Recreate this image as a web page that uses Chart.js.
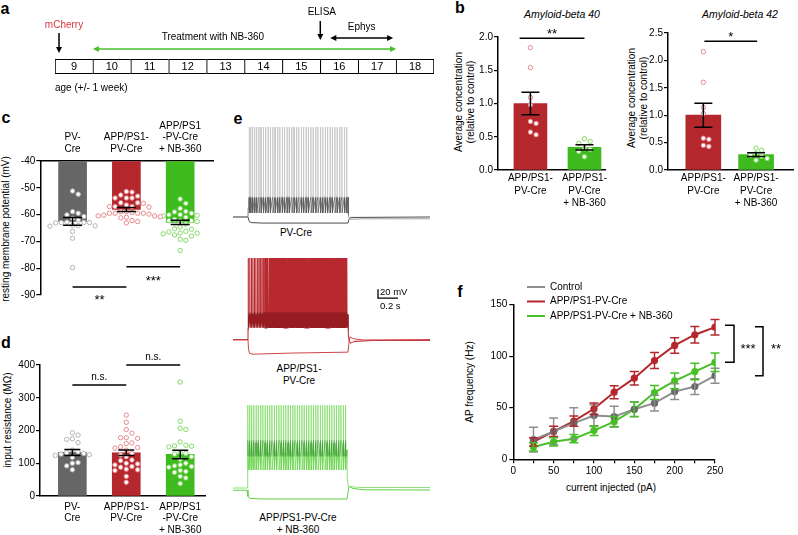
<!DOCTYPE html>
<html>
<head>
<meta charset="utf-8">
<title>PV interneurons - NB-360</title>
<script src="https://cdn.jsdelivr.net/npm/chart.js@4.4.1/dist/chart.umd.min.js"></script>
<style>
  html, body { margin: 0; padding: 0; background: #fff; }
  body { position: relative; width: 798px; height: 535px; overflow: hidden;
         font-family: 'Liberation Sans', Arial, Helvetica, sans-serif; font-size: 10px; color: #000; }
  canvas { position: absolute; }
  .t { position: absolute; white-space: nowrap; line-height: 1; transform: translate(-50%, -50%); }
  .p { font-size: 16px; font-weight: bold; }
  .i { font-style: italic; font-size: 10.5px; }
  .v { transform: translate(-50%, -50%) rotate(-90deg); }
</style>
</head>
<body>
<div class="t p" style="left:5px;top:9px">a</div>
<div class="t p" style="left:460px;top:8px">b</div>
<div class="t p" style="left:6px;top:118px">c</div>
<div class="t p" style="left:6px;top:343px">d</div>
<div class="t p" style="left:238px;top:119px">e</div>
<div class="t p" style="left:460px;top:292px">f</div>

<div class="t i" style="left:562px;top:14px">Amyloid-beta 40</div>
<div class="t i" style="left:740px;top:14px">Amyloid-beta 42</div>
<div class="t v" style="left:459px;top:102px">Average concentration</div>
<div class="t v" style="left:471px;top:102px">(relative to control)</div>
<div class="t v" style="left:632px;top:98px">Average concentration</div>
<div class="t v" style="left:644px;top:98px">(relative to control)</div>
<div class="t v" style="left:6px;top:229px">resting membrane potential (mV)</div>
<div class="t v" style="left:8px;top:420px">input resistance (MΩ)</div>
<div class="t" style="left:296px;top:233px">PV-Cre</div>
<div class="t" style="left:299px;top:369px">APP/PS1-</div>
<div class="t" style="left:299px;top:381px">PV-Cre</div>
<div class="t" style="left:298px;top:518px">APP/PS1-PV-Cre</div>
<div class="t" style="left:298px;top:530px">+ NB-360</div>
<div class="t v" style="left:470px;top:382px">AP frequency (Hz)</div>
<div class="t" style="left:611px;top:488px">current injected (pA)</div>

<script>
const FONT = "'Liberation Sans', Arial, Helvetica, sans-serif";

// a - timeline, age in weeks
const ageWeeks = [9, 10, 11, 12, 13, 14, 15, 16, 17, 18];
const mCherryWeek = 9;
const treatmentWeeks = [10, 18];
const elisaWeek = 16;
const ephysWeeks = [16, 18];

// b - ELISA (relative to control)
const abLabels = [['APP/PS1-', 'PV-Cre'], ['APP/PS1-', 'PV-Cre', '+ NB-360']];
const ab40Mean = [1.0, 0.34];
const ab40Sem = [0.17, 0.04];
const ab40Tg = [1.84, 1.54, 1.09, 0.98, 0.73, 0.70, 0.57, 0.53];
const ab40Nb = [0.47, 0.43, 0.40, 0.32, 0.31, 0.28, 0.20];
const ab42Mean = [1.0, 0.28];
const ab42Sem = [0.22, 0.035];
const ab42Tg = [2.16, 1.60, 1.14, 1.03, 0.58, 0.56, 0.45, 0.43];
const ab42Nb = [0.40, 0.36, 0.30, 0.27, 0.25, 0.21, 0.18];

// c - resting membrane potential (mV)
const cellLabels = [['PV-', 'Cre'], ['APP/PS1-', 'PV-Cre'], ['APP/PS1', '-PV-Cre', '+ NB-360']];
const rmpMean = [-62.5, -58.1, -62.9];
const rmpSem = [1.45, 0.75, 0.8];
const rmpCtrl = [-51.2, -52.4, -58.9, -59.5, -60.1, -60.7, -61.4, -62.0, -62.8, -62.9, -63.0, -63.0,
                 -63.1, -64.0, -64.1, -64.2, -64.3, -66.3, -68.8, -79.8];
const rmpTg = [-51.4, -51.6, -52.7, -53.1, -53.8, -53.8, -53.8, -55.6, -55.6, -55.8, -56.4, -57.0, -57.0,
               -57.0, -57.2, -58.9, -58.9, -59.2, -59.5, -59.5, -59.5, -59.5, -59.8, -60.2, -60.5, -60.5,
               -60.8, -61.0, -61.2, -62.2, -62.6, -63.1];
const rmpNb = [-54.2, -55.8, -57.7, -58.8, -59.0, -59.5, -60.0, -60.1, -60.3, -60.5, -61.0, -61.8, -62.3,
               -62.3, -62.3, -62.6, -63.5, -64.6, -65.3, -65.5, -66.2, -66.5, -66.9, -66.9, -67.2, -67.6,
               -68.0, -69.2, -69.6, -73.4];

// d - input resistance (MOhm)
const rinMean = [133, 132, 127];
const rinSem = [9, 8.5, 13];
const rinCtrl = [193, 186, 175, 173, 163, 140, 135, 132, 130, 128, 126, 124, 118, 102, 100, 92, 80];
const rinTg = [247, 225, 203, 192, 178, 178, 176, 162, 160, 150, 148, 146, 140, 130, 125, 120, 110, 108,
               100, 98, 95, 90, 88, 82, 80, 78, 60, 42];
const rinNb = [348, 228, 207, 203, 165, 155, 153, 152, 150, 133, 130, 128, 120, 112, 100, 95, 92, 90, 88,
               78, 75, 72, 60, 55, 38];

// e - example traces (time s, mV), spike times in ms
const graySpikes = [163, 177, 195, 216, 236, 259, 280, 304, 326, 351, 373, 398, 420, 446, 467, 493, 515,
                    541, 562, 588, 610, 636, 658, 684, 705, 731, 753, 779, 801, 827, 849, 875, 897, 923,
                    945, 971, 993, 1019, 1041, 1067, 1089, 1115, 1137];
const grayLevels = {thr: -18, peak: 135, ahp: -56};
const grayHead = [[0, -65], [0.15, -65], [0.152, -45], [0.158, -30]];
const grayTail = [[1.15, -20], [1.153, -58], [1.16, -68], [1.18, -70], [1.3, -69], [1.97, -69]];
const grayHyper = [[0, -65], [0.15, -65], [0.16, -74], [0.18, -77.5], [0.3, -78.5], [1.15, -78.5],
                   [1.16, -70], [1.18, -66], [1.97, -65]];

const redSpikes = [153, 168, 184, 199, 214, 229, 245, 260, 275, 290, 305, 318,
                   329, 340, 350, 361, 371, 382, 392, 403, 413, 424, 434, 445, 455, 466, 476, 487, 497,
                   508, 518, 529, 539, 550, 560, 571, 581, 592, 602, 613, 623, 634, 644, 655, 665, 676,
                   686, 697, 707, 718, 728, 739, 749, 760, 770, 781, 791, 802, 812, 823, 833, 844, 854,
                   865, 875, 886, 896, 907, 917, 928, 938, 949, 959, 970, 980, 991, 1001, 1012, 1022,
                   1033, 1043, 1054, 1064, 1075, 1085, 1096, 1106, 1117, 1127, 1138];
const redLevels = {thr: -5, peak: 117, ahp: -38};
const redHead = [[0, -64], [0.15, -64], [0.1505, -40], [0.152, -15]];
const redTail = [[1.15, -8], [1.153, -50], [1.16, -66], [1.175, -72], [1.22, -68], [1.4, -66], [1.97, -66]];
const redHyper = [[0, -65], [0.15, -65], [0.155, -85], [0.165, -95], [0.2, -96.5], [0.6, -94], [1.15, -92],
                  [1.16, -70], [1.17, -58], [1.2, -62], [1.3, -65], [1.97, -64]];

const greenSpikes = [150, 166, 186, 207, 231, 252, 276, 298, 321, 343, 367, 389, 413, 435, 459, 481, 505,
                     527, 551, 573, 597, 619, 643, 665, 689, 711, 735, 757, 781, 803, 827, 849, 873, 895,
                     919, 941, 965, 987, 1011, 1033, 1057, 1079, 1103, 1125];
const greenLevels = {thr: 35, peak: 119, ahp: -25};
const greenHead = [[0, -65], [0.14, -65], [0.142, -35], [0.148, 0]];
const greenTail = [[1.14, 20], [1.143, -45], [1.15, -60], [1.17, -62], [1.3, -64], [1.97, -64]];
const greenHyper = [[0, -70], [0.14, -70], [0.15, -84], [0.17, -88], [0.3, -89.5], [1.14, -89.5],
                    [1.15, -76], [1.16, -61], [1.2, -66], [1.3, -69], [1.97, -69.5]];

// f - AP frequency (Hz) vs injected current (pA)
const currents = [25, 50, 75, 100, 125, 150, 175, 200, 225, 250];
const apCtrl = [19, 27, 35, 42.4, 41.4, 48.5, 54.4, 65.6, 70.5, 81];
const apCtrlSem = [12, 13, 15, 10.5, 10, 7.3, 7.6, 7.7, 7.6, 7.3];
const apTg = [17, 27, 37, 49, 65, 78.6, 95.7, 110.3, 120.7, 128];
const apTgSem = [4, 5, 5, 5.5, 6.3, 6.5, 7.7, 7.5, 8, 7.5];
const apNb = [12, 17, 20, 27.8, 36.5, 48.5, 64.7, 76, 85, 94];
const apNbSem = [4, 4, 4, 4.8, 5, 7, 6.7, 7.7, 8, 9];

const C = {
  red: '#b3272d', green: '#40bb1f', gray: '#666666',
  redLt: '#e8898e', greenLt: '#84da68', grayLt: '#b3b3b3'
};

Chart.defaults.font.family = FONT;
Chart.defaults.font.size = 10;
Chart.defaults.color = '#000';
Chart.defaults.animation = false;
Chart.defaults.responsive = false;
Chart.defaults.events = [];
Chart.defaults.plugins.legend.display = false;
Chart.defaults.plugins.tooltip.enabled = false;

function cv(left, top, w, h) {
  const c = document.createElement('canvas');
  c.width = w; c.height = h;
  c.style.left = left + 'px'; c.style.top = top + 'px';
  c.style.width = w + 'px'; c.style.height = h + 'px';
  document.body.appendChild(c);
  return c;
}

// padding so the chart area lands on a given box
function pad(rect, area, yW, xH, xTop) {
  const [L, T, W, H] = rect, [l, t, r, b] = area;
  return {left: l - L - yW, right: L + W - r, top: t - T - (xTop ? xH : 0), bottom: T + H - b - (xTop ? 0 : xH)};
}

const xy = pairs => pairs.map(([x, y]) => ({x, y}));

// simple beeswarm: spread close values sideways
function swarm(vals, tol, step) {
  const placed = [];
  return vals.map(v => {
    let off = 0;
    for (let n = 0; n < 60; n++) {
      off = n === 0 ? 0 : (n % 2 ? 1 : -1) * Math.ceil(n / 2) * step;
      if (!placed.some(p => Math.abs(p.v - v) < tol && Math.abs(p.o - off) < step * 0.99)) break;
    }
    placed.push({v, o: off});
    return off;
  });
}

function line(ctx, x1, y1, x2, y2) {
  ctx.beginPath(); ctx.moveTo(x1, y1); ctx.lineTo(x2, y2); ctx.stroke();
}

const errorBars = {
  id: 'errorBars',
  afterDatasetsDraw(chart) {
    const {ctx, scales} = chart;
    chart.data.datasets.forEach((ds, di) => {
      if (!ds.sem) return;
      const meta = chart.getDatasetMeta(di);
      ctx.save();
      ctx.strokeStyle = ds.errColor || '#000';
      ctx.lineWidth = ds.errWidth || 1.5;
      meta.data.forEach((el, i) => {
        const v = ds.data[i].y, s = ds.sem[i], c = ds.cap || 8;
        const y1 = scales.y.getPixelForValue(v - s), y2 = scales.y.getPixelForValue(v + s);
        ctx.beginPath();
        ctx.moveTo(el.x, y1); ctx.lineTo(el.x, y2);
        ctx.moveTo(el.x - c, y1); ctx.lineTo(el.x + c, y1);
        ctx.moveTo(el.x - c, y2); ctx.lineTo(el.x + c, y2);
        ctx.stroke();
      });
      ctx.restore();
    });
  }
};

const sigLines = {
  id: 'sigLines',
  afterDatasetsDraw(chart, args, o) {
    if (!o || !o.items) return;
    const {ctx, scales: {x, y}} = chart;
    ctx.save();
    ctx.strokeStyle = '#000'; ctx.fillStyle = '#000'; ctx.lineWidth = 1.5; ctx.textAlign = 'center';
    o.items.forEach(it => {
      const x1 = x.getPixelForValue(it.from), x2 = x.getPixelForValue(it.to), py = y.getPixelForValue(it.at);
      line(ctx, x1, py, x2, py);
      ctx.font = `${it.size || 13}px ${FONT}`;
      ctx.fillText(it.text, (x1 + x2) / 2, py + it.dy);
    });
    ctx.restore();
  }
};

function arrowHead(ctx, x, y, dx, dy) {
  // tip at x,y pointing along (dx,dy)
  const len = 6, half = 3;
  ctx.beginPath();
  ctx.moveTo(x, y);
  ctx.lineTo(x - dx * len - dy * half, y - dy * len - dx * half);
  ctx.lineTo(x - dx * len + dy * half, y - dy * len + dx * half);
  ctx.closePath(); ctx.fill();
}

const timeline = {
  id: 'timeline',
  afterDatasetsDraw(chart, args, o) {
    if (!o || !o.on) return;
    const {ctx, chartArea: ca, scales: {x}} = chart;
    const X = w => x.getPixelForValue(w);
    ctx.save();
    ctx.fillStyle = '#000'; ctx.textAlign = 'center'; ctx.textBaseline = 'middle';
    ctx.font = `11px ${FONT}`;
    ageWeeks.forEach(w => ctx.fillText(String(w), X(w + 0.5), (ca.top + ca.bottom) / 2 + 0.5));
    ctx.font = `10px ${FONT}`;
    ctx.lineWidth = 1.5;

    ctx.fillStyle = '#d8383e';
    ctx.fillText('mCherry', X(mCherryWeek) + 9, ca.top - 34);
    ctx.fillStyle = '#000'; ctx.strokeStyle = '#000';
    line(ctx, X(mCherryWeek) + 4, ca.top - 26, X(mCherryWeek) + 4, ca.top - 10);
    arrowHead(ctx, X(mCherryWeek) + 4, ca.top - 6, 0, 1);

    ctx.fillText('Treatment with NB-360', X(treatmentWeeks[0]) + 120, ca.top - 22);
    ctx.strokeStyle = '#49bf2c'; ctx.fillStyle = '#49bf2c';
    line(ctx, X(treatmentWeeks[0]) + 4, ca.top - 10, X(treatmentWeeks[1]) - 4, ca.top - 10);
    arrowHead(ctx, X(treatmentWeeks[0]), ca.top - 10, -1, 0);
    arrowHead(ctx, X(treatmentWeeks[1]), ca.top - 10, 1, 0);

    ctx.fillStyle = '#000'; ctx.strokeStyle = '#000';
    ctx.fillText('ELISA', X(elisaWeek) + 1.5, ca.top - 47);
    line(ctx, X(elisaWeek), ca.top - 38, X(elisaWeek), ca.top - 23);
    arrowHead(ctx, X(elisaWeek), ca.top - 19, 0, 1);

    const e1 = X(ephysWeeks[0]) + 10, e2 = X(ephysWeeks[1]) - 3;
    ctx.fillText('Ephys', (e1 + e2) / 2, ca.top - 32);
    line(ctx, e1 + 4, ca.top - 21, e2 - 4, ca.top - 21);
    arrowHead(ctx, e1, ca.top - 21, -1, 0);
    arrowHead(ctx, e2, ca.top - 21, 1, 0);

    ctx.textAlign = 'left';
    ctx.fillText('age (+/- 1 week)', X(ageWeeks[0]), ca.bottom + 14);
    ctx.restore();
  }
};

const scaleBar = {
  id: 'scaleBar',
  afterDatasetsDraw(chart, args, o) {
    if (!o || o.t === undefined) return;
    const {ctx, scales: {x, y}} = chart;
    const x0 = x.getPixelForValue(o.t), x1 = x.getPixelForValue(o.t + o.dt);
    const y0 = y.getPixelForValue(o.v), y1 = y.getPixelForValue(o.v + o.dv);
    ctx.save();
    ctx.strokeStyle = '#000'; ctx.fillStyle = '#000'; ctx.lineWidth = 1.3;
    ctx.beginPath(); ctx.moveTo(x0, y1); ctx.lineTo(x0, y0); ctx.lineTo(x1, y0); ctx.stroke();
    ctx.font = `9.5px ${FONT}`; ctx.textBaseline = 'middle'; ctx.textAlign = 'left';
    ctx.fillText(o.dv + ' mV', x0 + 2, (y0 + y1) / 2 - 1);
    ctx.fillText(o.dt + ' s', x0 + 2, y0 + 8);
    ctx.restore();
  }
};

const lineLegend = {
  id: 'lineLegend',
  afterDraw(chart, args, o) {
    if (!o || o.len === undefined) return;
    const {ctx, chartArea: ca} = chart;
    ctx.save();
    ctx.font = `10px ${FONT}`; ctx.textBaseline = 'middle'; ctx.fillStyle = '#000';
    chart.data.datasets.forEach((ds, i) => {
      const y = ca.top + o.top + i * o.gap, x0 = ca.left + o.left;
      ctx.strokeStyle = ds.borderColor; ctx.lineWidth = 2;
      line(ctx, x0, y, x0 + o.len, y);
      ctx.fillText(ds.label, x0 + o.len + 5, y);
    });
    ctx.restore();
  }
};

const brackets = {
  id: 'brackets',
  afterDraw(chart, args, o) {
    if (!o || !o.items) return;
    const {ctx, chartArea: ca, scales: {y}} = chart;
    ctx.save();
    ctx.strokeStyle = '#000'; ctx.fillStyle = '#000'; ctx.lineWidth = 1.5;
    ctx.font = `13px ${FONT}`; ctx.textAlign = 'center';
    const mid = y.getPixelForValue((o.items[0].a + o.items[0].b) / 2);
    o.items.forEach(b => {
      const xr = ca.right + b.dx, y1 = y.getPixelForValue(b.a), y2 = y.getPixelForValue(b.b);
      ctx.beginPath();
      ctx.moveTo(xr - b.tick, y1); ctx.lineTo(xr, y1); ctx.lineTo(xr, y2); ctx.lineTo(xr - b.tick, y2);
      ctx.stroke();
      ctx.fillText(b.text, xr + b.tx, mid + 9.5);
    });
    ctx.restore();
  }
};

Chart.register(errorBars, sigLines, timeline, scaleBar, lineLegend, brackets);

// a
new Chart(cv(0, 0, 440, 100), {
  type: 'bar',
  data: {
    labels: ['age'],
    datasets: [{
      data: ageWeeks.map(w => ({x: [w, w + 1], y: 'age'})),
      backgroundColor: '#fff', borderColor: '#000', borderSkipped: false,
      borderWidth: c => ({top: 1.3, bottom: 1.3, left: 1.1, right: c.dataIndex === ageWeeks.length - 1 ? 1.1 : 0}),
      barPercentage: 1, categoryPercentage: 1
    }]
  },
  options: {
    indexAxis: 'y',
    layout: {padding: {left: 55, right: 6, top: 59, bottom: 26}},
    scales: {x: {type: 'linear', min: 9, max: 19, display: false}, y: {display: false}},
    plugins: {timeline: {on: true}}
  }
});

// bars + dots (b, c, d)
function dotBar(o) {
  const datasets = [{
    type: 'bar', order: 2, data: o.means.map((m, i) => ({x: i, y: m})),
    backgroundColor: o.colors, borderWidth: 0, barThickness: o.barW, base: o.base,
    sem: o.sems, cap: o.cap
  }];
  o.points.forEach((vals, g) => {
    const offs = swarm(vals, o.tol, 0.105);
    datasets.push({
      type: 'scatter', order: 1, data: vals.map((v, k) => ({x: g + offs[k], y: v})),
      pointRadius: 2.2, pointBorderWidth: 1, pointBackgroundColor: '#fff', pointBorderColor: o.light[g]
    });
  });
  return new Chart(cv(...o.rect), {
    type: 'bar',
    data: {datasets},
    options: {
      layout: {padding: pad(o.rect, o.area, o.yW, o.xH, o.xTop)},
      scales: {
        x: {
          type: 'linear', position: o.xTop ? 'top' : 'bottom', min: o.xMin, max: o.xMax, offset: false,
          afterBuildTicks: s => { s.ticks = o.labels.map((_, i) => ({value: i})); },
          afterFit: s => { s.height = o.xH; },
          ticks: {autoSkip: false, maxRotation: 0, padding: o.xPad, font: {size: 10, lineHeight: o.lh},
                  callback: v => o.labels[v]},
          grid: {display: false, drawTicks: false, offset: false},
          border: {display: true, color: '#000', width: 1.5}
        },
        y: {
          min: o.yMin, max: o.yMax,
          afterFit: s => { s.width = o.yW; },
          ticks: {stepSize: o.yStep, padding: 1, callback: o.yFmt || (v => v)},
          grid: {drawOnChartArea: false, tickLength: 4, color: '#000', lineWidth: 1.2},
          border: {color: '#000', width: 1.5}
        }
      },
      plugins: {sigLines: {items: o.sig}}
    }
  });
}

dotBar({
  rect: [440, 20, 175, 200], area: [498, 37, 605, 170], yW: 40, xH: 45, xTop: false,
  xMin: -0.6, xMax: 1.38, labels: abLabels, lh: 1.25, xPad: 2,
  yMin: 0, yMax: 2, yStep: 0.5, yFmt: v => v.toFixed(1),
  means: ab40Mean, sems: ab40Sem, points: [ab40Tg, ab40Nb],
  colors: [C.red, C.green], light: [C.redLt, C.greenLt], barW: 33, cap: 9, tol: 0.083,
  sig: [{from: -0.2, to: 1, at: 1.98, text: '**', dy: -0.5}]
});

dotBar({
  rect: [615, 20, 183, 200], area: [668, 33, 797, 170], yW: 40, xH: 45, xTop: false,
  xMin: -0.67, xMax: 1.7, labels: abLabels, lh: 1.25, xPad: 2,
  yMin: 0, yMax: 2.5, yStep: 0.5, yFmt: v => v.toFixed(1),
  means: ab42Mean, sems: ab42Sem, points: [ab42Tg, ab42Nb],
  colors: [C.red, C.green], light: [C.redLt, C.greenLt], barW: 35, cap: 9, tol: 0.1,
  sig: [{from: 0.02, to: 1.02, at: 2.35, text: '*', dy: -0.5}]
});

dotBar({
  rect: [0, 105, 230, 200], area: [40.3, 161, 213, 295], yW: 38, xH: 45, xTop: true,
  xMin: -0.6, xMax: 2.61, labels: cellLabels, lh: 1.15, xPad: 6.5,
  yMin: -90, yMax: -40, yStep: 10, base: -40,
  means: rmpMean, sems: rmpSem, points: [rmpCtrl, rmpTg, rmpNb],
  colors: [C.gray, C.red, C.green], light: [C.grayLt, C.redLt, C.greenLt], barW: 28, cap: 9.5, tol: 2.05,
  sig: [{from: 0, to: 1, at: -87, text: '**', dy: 17.5}, {from: 1, to: 2, at: -79.5, text: '***', dy: 18.5}]
});

dotBar({
  rect: [0, 340, 230, 200], area: [40, 365, 205, 496], yW: 38, xH: 42, xTop: false,
  xMin: -0.6, xMax: 2.46, labels: cellLabels, lh: 1.15, xPad: 5,
  yMin: 0, yMax: 400, yStep: 100,
  means: rinMean, sems: rinSem, points: [rinCtrl, rinTg, rinNb],
  colors: [C.gray, C.red, C.green], light: [C.grayLt, C.redLt, C.greenLt], barW: 28, cap: 8, tol: 16.8,
  sig: [{from: 0, to: 1, at: 339, text: 'n.s.', dy: -5, size: 10}, {from: 1, to: 2, at: 400, text: 'n.s.', dy: -5, size: 10}]
});

// e - traces
function spikeTrace(head, spikes, lv, tail) {
  const pts = xy(head);
  spikes.forEach(ms => {
    const t = ms / 1000;
    pts.push({x: t - 0.0008, y: lv.thr}, {x: t, y: lv.peak}, {x: t + 0.0022, y: lv.ahp});
  });
  return pts.concat(xy(tail));
}

function bandColor(light, dark, below, hi, lo) {
  return c => {
    const ch = c.chart, ca = ch.chartArea;
    if (!ca) return dark;
    const y = ch.scales.y, h = ca.bottom - ca.top;
    const p1 = Math.max(0, (y.getPixelForValue(hi) - ca.top) / h);
    const p2 = Math.min(0.97, (y.getPixelForValue(lo) - ca.top) / h);
    const g = ch.ctx.createLinearGradient(0, ca.top, 0, ca.bottom);
    g.addColorStop(0, light); g.addColorStop(p1, light); g.addColorStop(p1 + 0.01, dark);
    g.addColorStop(p2, dark); g.addColorStop(p2 + 0.02, below); g.addColorStop(1, below);
    return g;
  };
}

function traceChart(rect, yMin, yMax, datasets, plugins) {
  return new Chart(cv(...rect), {
    type: 'line',
    data: {datasets},
    options: {
      layout: {padding: 0},
      scales: {x: {type: 'linear', min: 0, max: 1.97, display: false}, y: {min: yMin, max: yMax, display: false}},
      elements: {point: {radius: 0}, line: {tension: 0}},
      plugins: plugins || {}
    }
  });
}

traceChart([233, 120, 197, 110], -93.9, 150.6, [
  {data: spikeTrace(grayHead, graySpikes, grayLevels, grayTail), borderWidth: 0.8,
   borderColor: bandColor('#c4c4c4', '#5a5a5a', '#8a8a8a', -20, -60)},
  {data: xy(grayHyper), borderWidth: 1, borderColor: '#4d4d4d'}
]);

traceChart([233, 250, 197, 112], -113.9, 135, [
  {data: spikeTrace(redHead, redSpikes, redLevels, redTail), borderWidth: 1.1,
   borderColor: bandColor('#b8292f', '#971c22', '#c23b41', -2, -42)},
  {data: xy(redHyper), borderWidth: 1, borderColor: '#cf4449'}
], {scaleBar: {t: 1.45, dt: 0.2, v: 28, dv: 20}});

traceChart([233, 398, 197, 108], -105, 135, [
  {data: spikeTrace(greenHead, greenSpikes, greenLevels, greenTail), borderWidth: 0.8,
   borderColor: bandColor('#86de6c', '#3ea82c', '#6fd655', 42, 8)},
  {data: xy(greenHyper), borderWidth: 1, borderColor: '#5fd043'}
]);

// f
function series(label, vals, sems, lineCol, dotCol) {
  return {
    label, data: currents.map((x, i) => ({x, y: vals[i]})), sem: sems, errColor: lineCol, cap: 4.5, errWidth: 1.5,
    borderColor: lineCol, borderWidth: 2, pointRadius: 3.6, pointBorderWidth: 0,
    pointBackgroundColor: dotCol, tension: 0
  };
}

const fRect = [455, 280, 343, 255], fArea = [513.3, 304.5, 715, 459.3];
new Chart(cv(...fRect), {
  type: 'line',
  data: {datasets: [
    series('Control', apCtrl, apCtrlSem, '#8e8e8e', '#676767'),
    series('APP/PS1-PV-Cre', apTg, apTgSem, C.red, C.red),
    series('APP/PS1-PV-Cre + NB-360', apNb, apNbSem, '#46c024', '#46c024')
  ]},
  options: {
    layout: {padding: pad(fRect, fArea, 40, 20, false)},
    scales: {
      x: {
        type: 'linear', min: 0, max: 250,
        afterFit: s => { s.height = 20; },
        ticks: {stepSize: 25, autoSkip: false, maxRotation: 0, padding: 2, callback: v => v % 50 === 0 ? v : ''},
        grid: {drawOnChartArea: false, tickLength: 4, color: '#000', lineWidth: 1.2},
        border: {color: '#000', width: 1.5}
      },
      y: {
        min: 0, max: 150,
        afterFit: s => { s.width = 40; },
        ticks: {stepSize: 50, padding: 2},
        grid: {drawOnChartArea: false, tickLength: 4, color: '#000', lineWidth: 1.2},
        border: {color: '#000', width: 1.5}
      }
    },
    plugins: {
      lineLegend: {left: 13.7, top: -17.5, gap: 14.5, len: 18},
      brackets: {items: [
        {a: apTg[apTg.length - 1] + 2, b: apNb[apNb.length - 1], dx: 19, tick: 9, text: '***', tx: 14},
        {a: apTg[apTg.length - 1] + 0.5, b: apCtrl[apCtrl.length - 1], dx: 48, tick: 8, text: '**', tx: 13}
      ]}
    }
  }
});
</script>
</body>
</html>
